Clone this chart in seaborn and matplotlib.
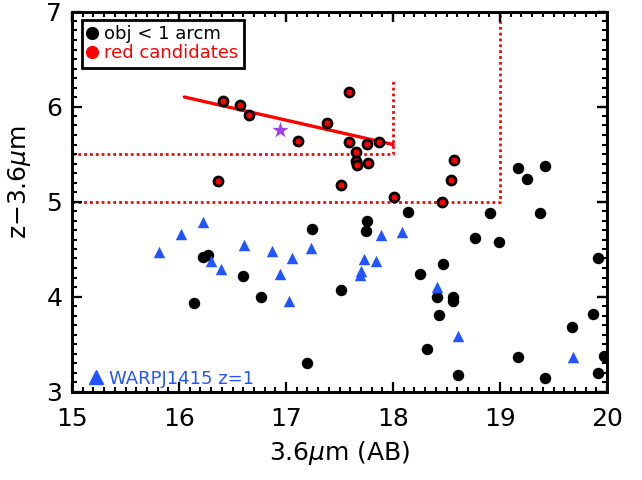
import matplotlib
matplotlib.use("Agg")
import matplotlib.pyplot as plt
from matplotlib.lines import Line2D
from matplotlib.ticker import MultipleLocator
import pandas as pd
import seaborn as sns

# Objects within 1 arcmin: 3.6um magnitude (AB) and z-3.6um colour
obj_mag = [16.22, 16.27, 16.60, 16.14, 16.77, 17.24, 17.51, 17.20, 17.76, 17.75,
           18.14, 18.25, 18.47, 18.41, 18.43, 18.32, 18.91, 19.37, 18.77, 18.99,
           18.56, 18.56, 18.61, 19.17, 19.42, 19.67, 19.87, 19.92, 19.97, 19.92,
           19.17, 19.25, 19.42]
obj_col = [4.42, 4.44, 4.22, 3.93, 4.00, 4.71, 4.07, 3.30, 4.80, 4.69,
           4.89, 4.24, 4.34, 4.00, 3.81, 3.45, 4.88, 4.88, 4.62, 4.57,
           3.99, 3.95, 3.17, 3.36, 3.14, 3.68, 3.82, 4.40, 3.37, 3.20,
           5.35, 5.24, 5.37]

# Red candidates
red_mag = [16.41, 16.57, 16.65, 16.36, 17.59, 17.38, 17.11, 17.59, 17.76, 17.87,
           17.65, 17.65, 17.66, 17.77, 17.51, 18.01, 18.46, 18.57, 18.54]
red_col = [6.06, 6.02, 5.91, 5.22, 6.15, 5.83, 5.64, 5.63, 5.61, 5.63,
           5.52, 5.43, 5.38, 5.41, 5.17, 5.05, 5.00, 5.44, 5.23]

# WARPJ1415 z=1 cluster members
warp_mag = [15.81, 16.02, 16.22, 16.30, 16.39, 16.61, 16.87, 16.94, 17.06, 17.03,
            17.23, 17.73, 17.70, 17.69, 17.84, 17.89, 18.08, 18.41, 18.61, 19.68]
warp_col = [4.47, 4.66, 4.78, 4.37, 4.29, 4.54, 4.48, 4.24, 4.40, 3.95,
            4.51, 4.39, 4.27, 4.23, 4.37, 4.65, 4.68, 4.10, 3.58, 3.36]

# Highlighted source
star_mag = [16.94]
star_col = [5.75]

# Red-sequence fit
fit_mag = [16.05, 18.00]
fit_col = [6.10, 5.60]

# Colour-magnitude selection boundaries
cut_a_mag = [15.0, 18.0, 18.0]
cut_a_col = [5.5, 5.5, 6.28]
cut_b_mag = [15.0, 19.0, 19.0]
cut_b_col = [5.0, 5.0, 7.0]

sns.set_theme(style="white")
plt.rcParams.update({
    "font.family": ["DejaVu Sans"],
    "text.color": "black",
    "axes.labelcolor": "black",
    "axes.edgecolor": "black",
    "axes.linewidth": 1.9,
    "xtick.color": "black",
    "ytick.color": "black",
    "xtick.direction": "in",
    "ytick.direction": "in",
    "xtick.top": True,
    "ytick.right": True,
    "xtick.major.size": 7.5,
    "ytick.major.size": 7.5,
    "xtick.minor.size": 3.8,
    "ytick.minor.size": 3.8,
    "xtick.major.width": 1.6,
    "ytick.major.width": 1.6,
    "xtick.minor.width": 1.5,
    "ytick.minor.width": 1.5,
    "xtick.major.pad": 11,
    "ytick.major.pad": 7,
    "xtick.labelsize": 18,
    "ytick.labelsize": 18,
})

BLUE = "#2255ff"
RED = "#ff0000"
PURPLE = "#a040e8"
XLIM = (15, 20)
YLIM = (3, 7)
RECT = [72 / 642, 1 - 391.5 / 480, 535 / 642, 380 / 480]

fig = plt.figure(figsize=(6.42, 4.8), dpi=100)
ax = fig.add_axes(RECT)

dot = (0, (1, 1.1))
ax.plot(cut_a_mag, cut_a_col, color=RED, lw=2.0, ls=dot, zorder=1)
ax.plot(cut_b_mag, cut_b_col, color=RED, lw=2.0, ls=dot, zorder=1)

obj = pd.DataFrame({"mag": obj_mag, "col": obj_col})
red = pd.DataFrame({"mag": red_mag, "col": red_col})
warp = pd.DataFrame({"mag": warp_mag, "col": warp_col})
star = pd.DataFrame({"mag": star_mag, "col": star_col})
fit = pd.DataFrame({"mag": fit_mag, "col": fit_col})

sns.scatterplot(data=obj, x="mag", y="col", ax=ax, color="black", s=68,
                marker="o", edgecolor="black", linewidth=0, zorder=3)
sns.scatterplot(data=warp, x="mag", y="col", ax=ax, color=BLUE, s=68,
                marker="^", edgecolor=BLUE, linewidth=0, zorder=3)
sns.lineplot(data=fit, x="mag", y="col", ax=ax, color=RED, lw=2.4, zorder=2)
sns.scatterplot(data=red, x="mag", y="col", ax=ax, color=RED, s=42,
                marker="o", edgecolor="black", linewidth=2.0, zorder=4)
sns.scatterplot(data=star, x="mag", y="col", ax=ax, color=PURPLE, s=150,
                marker="*", edgecolor=PURPLE, linewidth=0, zorder=4)

ax.set_xlim(*XLIM)
ax.set_ylim(*YLIM)
ax.xaxis.set_major_locator(MultipleLocator(1))
ax.yaxis.set_major_locator(MultipleLocator(1))
ax.tick_params(which="both", direction="in", colors="black")

ax.set_xlabel("3.6$\\mu$m (AB)", fontsize=18, color="black")
ax.set_ylabel("z\u22123.6$\\mu$m", fontsize=18, color="black")
ax.xaxis.set_label_coords(0.5, -0.125)
ax.yaxis.set_label_coords(-0.073, 0.55)

# Legends
h_main = [Line2D([], [], marker="o", ls="none", color="black", markersize=8.5),
          Line2D([], [], marker="o", ls="none", color=RED, markersize=8.5)]
leg = ax.legend(h_main, ["obj < 1 arcm", "red candidates"], loc="upper left",
                bbox_to_anchor=(0.018, 0.978), borderaxespad=0, fontsize=13,
                frameon=True, fancybox=False, framealpha=1, edgecolor="black",
                handlelength=0.6, handletextpad=0.35, borderpad=0.3,
                labelspacing=0.05, labelcolor=["black", RED])
leg.get_frame().set_linewidth(2)

h_warp = [Line2D([], [], marker="^", ls="none", color=BLUE, markersize=9.5)]
leg2 = ax.legend(h_warp, ["WARPJ1415 z=1"], loc="lower left",
                 bbox_to_anchor=(0.03, 0.005), borderaxespad=0, fontsize=13,
                 frameon=False, handlelength=0.7, handletextpad=0.35,
                 borderpad=0.1, labelcolor=[BLUE])
ax.add_artist(leg)

# Frame with inward major/minor ticks on all four sides, layered on top
frame = fig.add_axes(RECT, zorder=10)
frame.patch.set_visible(False)
frame.grid(False)
frame.set_xlim(*XLIM)
frame.set_ylim(*YLIM)
frame.xaxis.set_major_locator(MultipleLocator(1))
frame.xaxis.set_minor_locator(MultipleLocator(0.1))
frame.yaxis.set_major_locator(MultipleLocator(1))
frame.yaxis.set_minor_locator(MultipleLocator(0.1))
frame.tick_params(which="both", direction="in", top=True, right=True,
                  bottom=True, left=True, labelbottom=False, labelleft=False,
                  labeltop=False, labelright=False, colors="black")
frame.tick_params(which="major", length=7.5, width=1.6)
frame.tick_params(which="minor", length=3.8, width=1.5)
for s in frame.spines.values():
    s.set_visible(True)
    s.set_linewidth(1.9)
    s.set_color("black")

fig.savefig("out.png", dpi=100, facecolor="white")
